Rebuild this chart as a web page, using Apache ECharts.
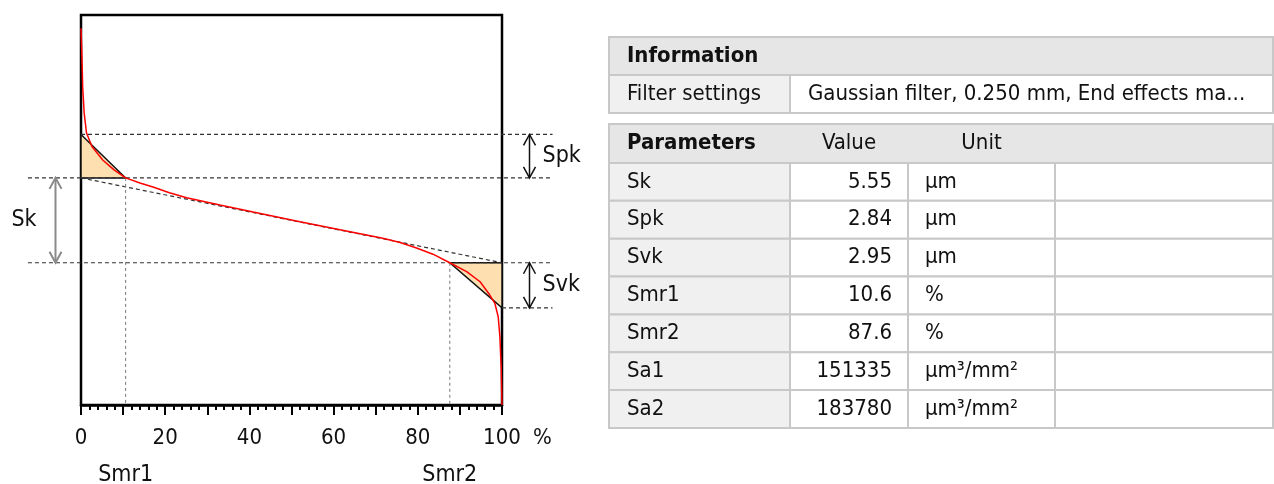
<!DOCTYPE html>
<html>
<head>
<meta charset="utf-8">
<script src="https://cdn.jsdelivr.net/npm/echarts@6/dist/echarts.min.js"></script>
<style>
html, body { margin: 0; padding: 0; background: #fff; }
#chart { width: 1274px; height: 484px; }
</style>
</head>
<body>
<div id="chart"></div>
<script>
// material ratio curve: x = material ratio in %, y = height in µm (0 = deepest point)
var curveX = [0, 0.2, 0.4, 0.75, 1.3, 2.6, 5.15, 7.85, 10.6, 14.0, 17.1, 21.0, 25.1, 33.0, 40.9, 52.0, 63.9, 71.7, 75.8, 79.7, 83.6, 87.6, 91.6, 94.8, 97.1, 98.3, 99.1, 99.5, 99.8, 100];
var curveY = [24.64, 23.0, 20.8, 19.1, 17.8, 16.9, 16.02, 15.37, 14.85, 14.52, 14.25, 13.88, 13.55, 13.08, 12.62, 11.98, 11.33, 10.9, 10.62, 10.27, 9.86, 9.30, 8.72, 8.06, 7.19, 6.65, 5.77, 4.47, 2.5, 0];

// parameter table
var paramNames = ['Sk', 'Spk', 'Svk', 'Smr1', 'Smr2', 'Sa1', 'Sa2'];
var paramValues = ['5.55', '2.84', '2.95', '10.6', '87.6', '151335', '183780'];
var paramUnits = ['µm', 'µm', 'µm', '%', '%', 'µm³/mm²', 'µm³/mm²'];
var infoNames = ['Filter settings'];
var infoValues = ['Gaussian filter, 0.250 mm, End effects ma...'];

var Sk = 5.55, Spk = 2.84, Svk = 2.95, Smr1 = 10.6, Smr2 = 87.6;
var coreTop = 14.85;               // height of the core line at 0 %
var coreBottom = coreTop - Sk;     // height of the core line at 100 %
var peakTop = coreTop + Spk;
var valleyBottom = coreBottom - Svk;

var FONT = '"DejaVu Sans Condensed", "DejaVu Sans", sans-serif';

var chart = echarts.init(document.getElementById('chart'));

function segments(color, dash, width) {
    return function (params, api) {
        var a = api.coord([api.value(0), api.value(1)]);
        var b = api.coord([api.value(2), api.value(3)]);
        return {
            type: 'line',
            shape: { x1: a[0], y1: a[1], x2: b[0], y2: b[1] },
            style: { stroke: color, lineWidth: width, lineDash: dash }
        };
    };
}

var arrowNames = ['Sk', 'Spk', 'Svk'];
function arrows(params, api) {
    var a = api.coord([api.value(0), api.value(1)]);
    var b = api.coord([api.value(0), api.value(2)]);
    var px = Math.round(a[0]) + 0.5, top = Math.min(a[1], b[1]), bot = Math.max(a[1], b[1]);
    var left = params.dataIndex === 0;
    var color = left ? '#8a8a8a' : '#111';
    var lw = left ? 2 : 1.5, hw = 6, hl = 11;
    return {
        type: 'group',
        children: [
            { type: 'line', shape: { x1: px, y1: top, x2: px, y2: bot }, style: { stroke: color, lineWidth: lw } },
            { type: 'polyline', shape: { points: [[px - hw, top + hl], [px, top], [px + hw, top + hl]] }, style: { stroke: color, lineWidth: lw, fill: null } },
            { type: 'polyline', shape: { points: [[px - hw, bot - hl], [px, bot], [px + hw, bot - hl]] }, style: { stroke: color, lineWidth: lw, fill: null } },
            {
                type: 'text',
                style: {
                    text: arrowNames[params.dataIndex],
                    x: left ? px - 19 : px + 13, y: (top + bot) / 2,
                    align: left ? 'right' : 'left', verticalAlign: 'middle',
                    textAlign: left ? 'right' : 'left', textVerticalAlign: 'middle',
                    font: '23px ' + FONT, fill: '#111'
                }
            }
        ]
    };
}

var smrNames = ['Smr1', 'Smr2'];
function smrLines(params, api) {
    var a = api.coord([api.value(0), api.value(1)]);
    var b = api.coord([api.value(0), 0]);
    return {
        type: 'group',
        children: [
            { type: 'line', shape: { x1: a[0], y1: a[1], x2: b[0], y2: b[1] }, style: { stroke: '#777', lineWidth: 1, lineDash: [3, 3] } },
            {
                type: 'text',
                style: {
                    text: smrNames[params.dataIndex], x: b[0], y: b[1] + 70,
                    align: 'center', verticalAlign: 'middle',
                    textAlign: 'center', textVerticalAlign: 'middle',
                    font: '23px ' + FONT, fill: '#111'
                }
            }
        ]
    };
}

function triangles(params, api) {
    var pts = [];
    for (var i = 0; i < 3; i++) pts.push(api.coord([api.value(i * 2), api.value(i * 2 + 1)]));
    return {
        type: 'polygon',
        shape: { points: pts },
        style: { fill: '#fddfb0', stroke: '#111', lineWidth: 1.5 }
    };
}

// table drawn with graphic elements
var graphics = [];
var cols = [609, 790, 908, 1055, 1273];
var border = '#c8c8c8';
function cell(x, y, w, h, fill) {
    graphics.push({ type: 'rect', shape: { x: x, y: y, width: w, height: h }, style: { fill: fill, stroke: border, lineWidth: 2 } });
}
function txt(s, x, y, align, bold, size) {
    graphics.push({
        type: 'text',
        style: {
            text: s, x: x, y: y, align: align, verticalAlign: 'middle',
            textAlign: align, textVerticalAlign: 'middle',
            font: (bold ? 'bold ' : '') + (size || 22) + 'px ' + FONT, fill: '#111'
        }
    });
}
var tw = cols[4] - cols[0];
cell(cols[0], 37, tw, 38, '#e6e6e6');
txt('Information', 627, 56, 'left', true);
for (var i = 0; i < infoNames.length; i++) {
    var y0 = 75 + i * 38;
    cell(cols[0], y0, cols[1] - cols[0], 38, '#f0f0f0');
    cell(cols[1], y0, cols[4] - cols[1], 38, '#fff');
    txt(infoNames[i], 627, y0 + 19, 'left');
    txt(infoValues[i], 808, y0 + 19, 'left');
}
var pTop = 124, hH = 39, rH = 37.85;
cell(cols[0], pTop, tw, hH, '#e6e6e6');
txt('Parameters', 627, pTop + hH / 2, 'left', true);
txt('Value', (cols[1] + cols[2]) / 2, pTop + hH / 2, 'center');
txt('Unit', (cols[2] + cols[3]) / 2, pTop + hH / 2, 'center');
for (var j = 0; j < paramNames.length; j++) {
    var ry = pTop + hH + j * rH;
    cell(cols[0], ry, cols[1] - cols[0], rH, '#f0f0f0');
    cell(cols[1], ry, cols[2] - cols[1], rH, '#fff');
    cell(cols[2], ry, cols[3] - cols[2], rH, '#fff');
    cell(cols[3], ry, cols[4] - cols[3], rH, '#fff');
    txt(paramNames[j], 627, ry + rH / 2, 'left');
    txt(paramValues[j], cols[2] - 16, ry + rH / 2, 'right');
    txt(paramUnits[j], cols[2] + 17, ry + rH / 2, 'left');
}

var curveData = curveX.map(function (x, k) { return [x, curveY[k]]; });

var option = {
    animation: false,
    textStyle: { fontFamily: FONT },
    grid: { left: 81, top: 15, width: 421, height: 390, show: true, borderColor: '#000', borderWidth: 2.5 },
    xAxis: {
        type: 'value', min: 0, max: 100, interval: 10,
        axisLine: { show: true, lineStyle: { color: '#000', width: 2.5 } },
        axisTick: { show: true, length: 10, lineStyle: { color: '#000', width: 2 } },
        minorTick: { show: true, splitNumber: 5, length: 5, lineStyle: { color: '#000', width: 2 } },
        splitLine: { show: false },
        axisLabel: {
            margin: 22, color: '#111', fontSize: 22, fontFamily: FONT,
            formatter: function (v) { return v % 20 === 0 ? String(v) : ''; }
        }
    },
    yAxis: { type: 'value', min: 0, max: 25.5, show: false, splitLine: { show: false } },
    graphic: graphics,
    series: [
        {
            type: 'custom', renderItem: triangles, z: 1, silent: true,
            data: [[0, peakTop, Smr1, coreTop, 0, coreTop], [Smr2, coreBottom, 100, coreBottom, 100, valleyBottom]]
        },
        {
            type: 'custom', renderItem: segments('#333', [4, 3], 1.2), z: 2, silent: true,
            data: [
                [0, peakTop, 112, peakTop],
                [-12.6, coreTop, 112, coreTop],
                [-12.6, coreBottom, 112, coreBottom],
                [100, valleyBottom, 112, valleyBottom],
                [0, coreTop, 100, coreBottom]
            ]
        },
        { type: 'custom', renderItem: smrLines, z: 2, silent: true, data: [[Smr1, coreTop], [Smr2, coreBottom]] },
        {
            type: 'line', data: curveData, showSymbol: false, smooth: false, z: 3, silent: true,
            lineStyle: { color: '#ff0000', width: 1.5 }
        },
        {
            type: 'custom', renderItem: arrows, z: 4, silent: true,
            data: [[-6.2, coreTop, coreBottom], [106.4, peakTop, coreTop], [106.4, coreBottom, valleyBottom]]
        }
    ]
};
chart.setOption(option);

// unit sign after the last tick label
var endPt = chart.convertToPixel({ gridIndex: 0 }, [100, 0]);
graphics.push({
    type: 'text',
    style: {
        text: '%', x: endPt[0] + 31, y: endPt[1] + 33, align: 'left', verticalAlign: 'middle',
        textAlign: 'left', textVerticalAlign: 'middle', font: '22px ' + FONT, fill: '#111'
    }
});
chart.setOption({ graphic: graphics });
</script>
</body>
</html>
